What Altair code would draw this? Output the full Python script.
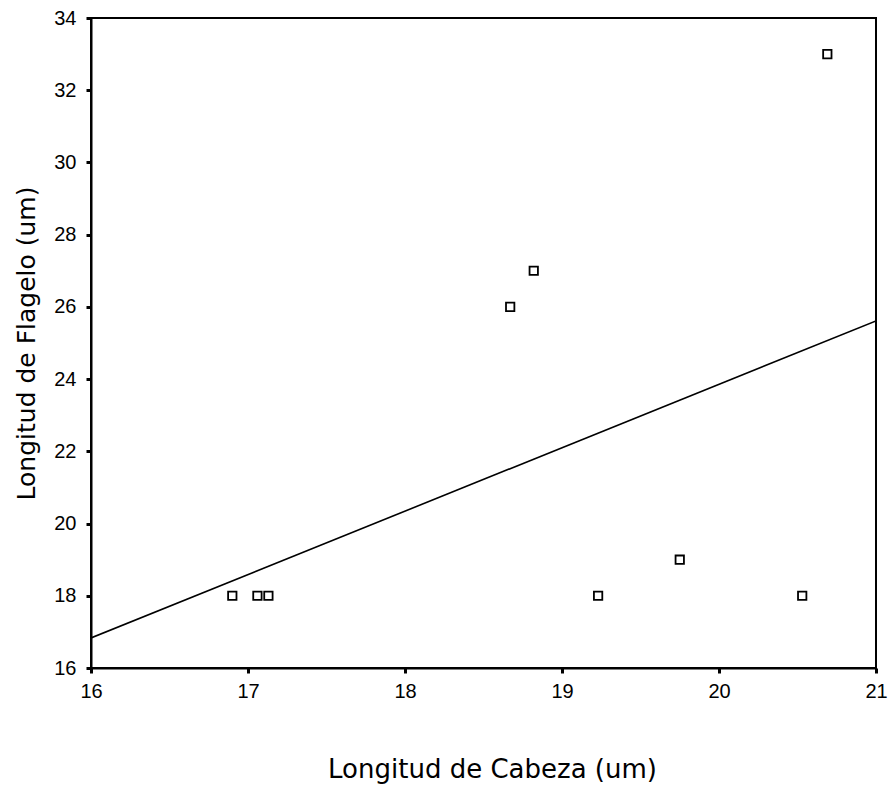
import altair as alt
import pandas as pd

cabeza = [16.90, 17.06, 17.13, 18.67, 18.82, 19.23, 19.75, 20.53, 20.69]
flagelo = [18, 18, 18, 26, 27, 18, 19, 18, 33]
x_ticks = [16, 17, 18, 19, 20, 21]
y_ticks = [16, 18, 20, 22, 24, 26, 28, 30, 32, 34]

df = pd.DataFrame({"cabeza": cabeza, "flagelo": flagelo})

LFONT = "Liberation Sans"
TFONT = "DejaVu Sans"

common = dict(grid=False, domainColor="black", domainWidth=2, tickColor="black",
              tickSize=5, tickWidth=3, labelFontSize=20, labelFont=LFONT,
              labelColor="black", labelFlush=False, titleFont=TFONT,
              titleFontWeight="normal", titleColor="black")

xenc = alt.X("cabeza:Q", scale=alt.Scale(domain=[16, 21], nice=False, zero=False),
             axis=alt.Axis(values=x_ticks, title="Longitud de Cabeza (um)",
                           labelPadding=8, titlePadding=55, titleFontSize=26,
                           titleX=401, **common))
yenc = alt.Y("flagelo:Q", scale=alt.Scale(domain=[16, 34], nice=False, zero=False),
             axis=alt.Axis(values=y_ticks, title="Longitud de Flagelo (um)",
                           labelPadding=10, titlePadding=14, titleFontSize=25, **common))

points = alt.Chart(df).mark_point(shape="square", filled=False, color="black",
                                  size=70, strokeWidth=1.8, opacity=1).encode(x=xenc, y=yenc)

line = alt.Chart(df).transform_regression("cabeza", "flagelo", extent=[16, 21]).mark_line(
    color="black", strokeWidth=1.6, clip=True).encode(x=xenc, y=yenc)

chart = (line + points).properties(
    width=785, height=650,
    autosize=alt.AutoSizeParams(type="none"),
    padding={"left": 91, "top": 18, "right": 15, "bottom": 122},
    background="white",
).configure_view(stroke="black", strokeWidth=2)

chart.save("out.html", embed_options={"renderer": "svg", "actions": False})
